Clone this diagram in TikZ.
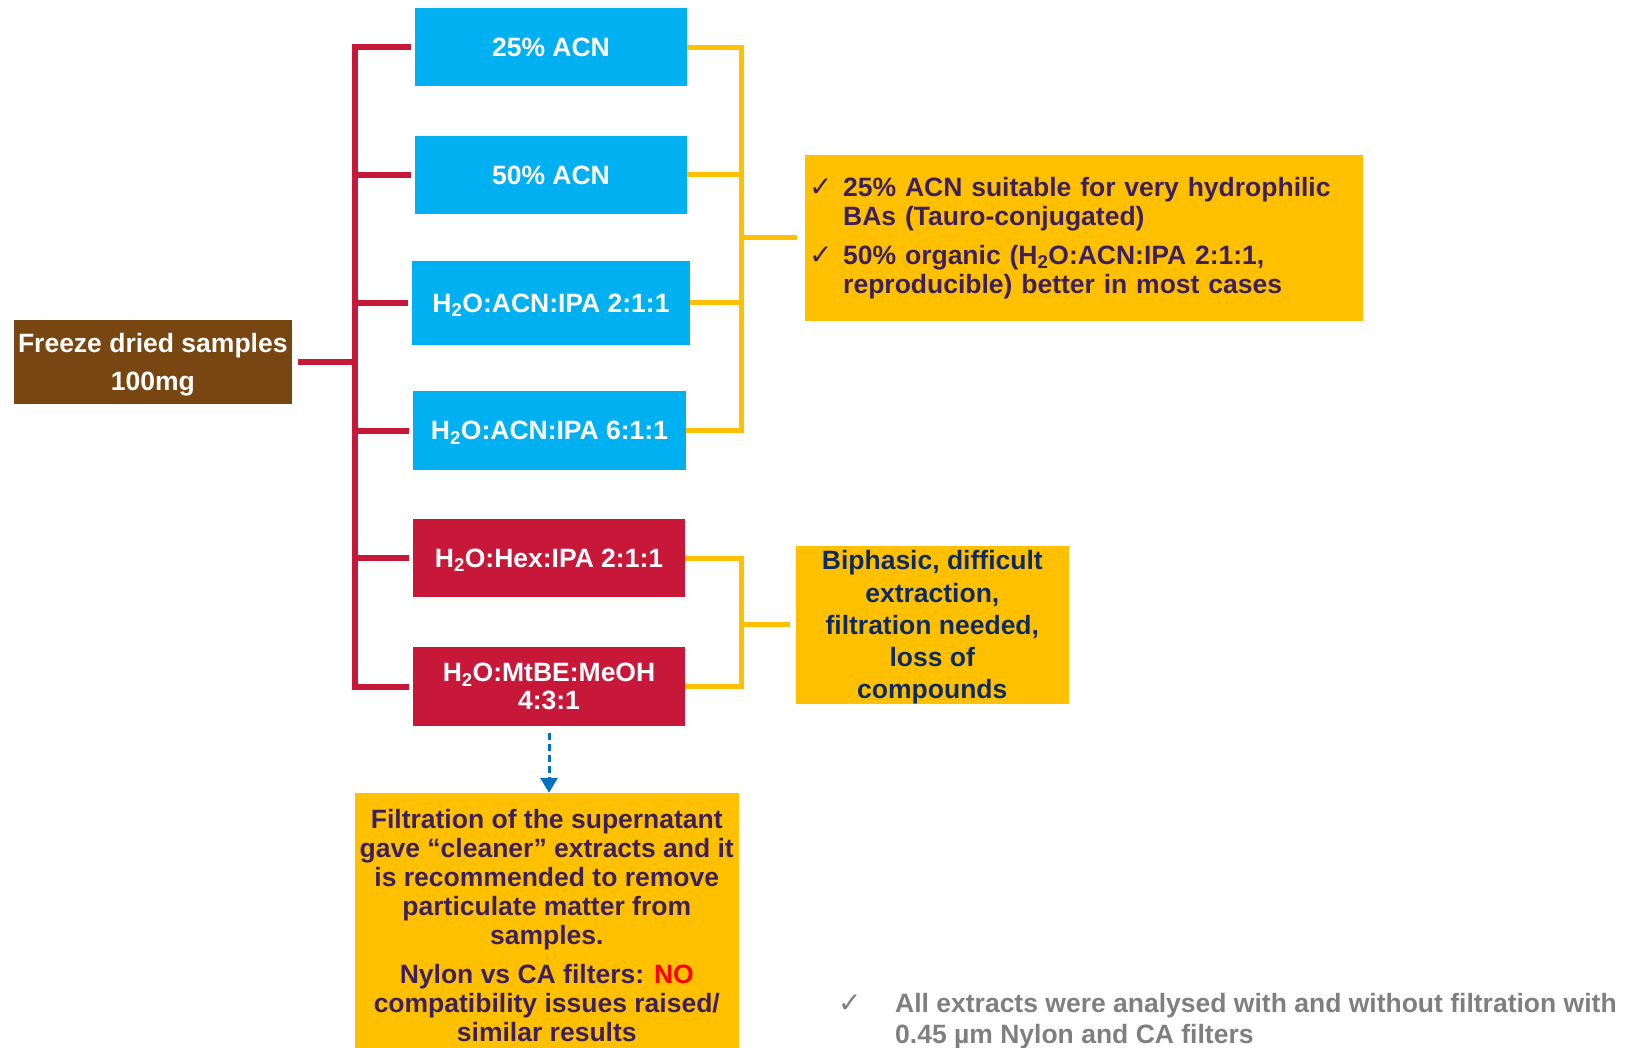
\documentclass[tikz,border=0pt]{standalone}
\usepackage{fontspec}
\setmainfont{Liberation Sans}
\newfontfamily\checkfont{DejaVu Sans}
\usetikzlibrary{arrows.meta}

\definecolor{solblue}{HTML}{00B0F0}
\definecolor{solred}{HTML}{C8183A}
\definecolor{sampbrown}{HTML}{784610}
\definecolor{noteyellow}{HTML}{FFC000}
\definecolor{notepurple}{HTML}{3D1F5C}
\definecolor{notenavy}{HTML}{0E2A5E}
\definecolor{arrowblue}{HTML}{0070C0}
\definecolor{remarkgray}{HTML}{7F7F7F}

\newcommand{\chk}{{\checkfont\mdseries\fontsize{28}{28}\selectfont ✓}}

\tikzset{
  boxtext/.style={font=\bfseries\fontsize{26.5}{29}\selectfont, align=center, inner sep=0pt},
  flat/.style={text depth=0pt},
  solvent/.style={boxtext, flat, fill=solblue, text=white},
  biphasic/.style={boxtext, flat, fill=solred, text=white},
  note/.style={boxtext, fill=noteyellow, text=notepurple},
  redline/.style={solred, line width=6pt},
  yelline/.style={noteyellow, line width=5pt},
}

\begin{document}
\begin{tikzpicture}[x=1pt, y=-1pt]
\useasboundingbox (0,0) rectangle (1630,1048);
% sample and extraction solvents
\node[boxtext, flat, fill=sampbrown, text=white, minimum width=278.5pt, minimum height=84pt, font=\bfseries\fontsize{26.5}{38.5}\selectfont] (src) at (152.8,362) {Freeze dried samples\\100mg};
\node[solvent, minimum width=272pt, minimum height=78pt] (b1) at (551,47.3) {25\% ACN};
\node[solvent, minimum width=272pt, minimum height=78pt] (b2) at (551,175) {50\% ACN};
\node[solvent, minimum width=278pt, minimum height=84pt] (b3) at (551,303) {H\textsubscript{2}O:ACN:IPA 2:1:1};
\node[solvent, minimum width=273pt, minimum height=79pt] (b4) at (549.5,430.5) {H\textsubscript{2}O:ACN:IPA 6:1:1};
\node[biphasic, minimum width=272pt, minimum height=78pt] (r1) at (549,558) {H\textsubscript{2}O:Hex:IPA 2:1:1};
\node[biphasic, minimum width=272pt, minimum height=79pt, font=\bfseries\fontsize{26.5}{28}\selectfont] (r2) at (549,686.5) {H\textsubscript{2}O:MtBE:MeOH\\4:3:1};
% notes
\node[note, minimum width=558pt, minimum height=166pt, text width=549pt, align=left] (note1) at (1083.7,238) {\makebox[34pt][l]{\chk}25\% ACN suitable for very hydrophilic\\\hspace*{34pt}BAs (Tauro-conjugated)\\[10.5pt]\makebox[34pt][l]{\chk}50\% organic (H\textsubscript{2}O:ACN:IPA 2:1:1,\\\hspace*{34pt}reproducible) better in most cases};
\node[note, flat, text=notenavy, minimum width=272.6pt, minimum height=158pt, font=\bfseries\fontsize{26.5}{32.2}\selectfont] (note2) at (932.3,624.7) {Biphasic, difficult\\extraction,\\filtration needed,\\loss of\\compounds};
\node[note, minimum width=384.5pt, minimum height=265pt, font=\bfseries\fontsize{26.5}{28.8}\selectfont] (note3) at (546.8,925.5) {Filtration of the supernatant\\gave “cleaner” extracts and it\\is recommended to remove\\particulate matter from\\samples.\\[10.7pt]Nylon vs CA filters: \textcolor{red}{NO}\\compatibility issues raised/\\similar results};
\node[boxtext, flat, text=remarkgray, align=left, anchor=west, font=\bfseries\fontsize{26.5}{31}\selectfont] (remark) at (838,1018.5) {\makebox[57pt][l]{\chk}All extracts were analysed with and without filtration with\\\hspace*{57pt}0.45 µm Nylon and CA filters};
% connectors
\coordinate (rt) at (355,0);
\coordinate (yt) at (741,0);
\draw[redline] ([xshift=-4pt]b1.west) -| (rt |- r2.west) -- ([xshift=-4pt]r2.west);
\foreach \n in {b2,b3,b4,r1} \draw[redline] (rt |- \n.west) -- ([xshift=-4pt]\n.west);
\draw[redline] ([xshift=6pt]src.east) -- (src.east -| rt);
\draw[yelline] (b1.east) -| (yt |- b4.east) -- (b4.east);
\foreach \n in {b2,b3} \draw[yelline] (\n.east) -- (yt |- \n.east);
\draw[yelline] (yt |- note1.west) -- ([xshift=-8pt]note1.west);
\draw[yelline] (r1.east) -| (yt |- r2.east) -- (r2.east);
\draw[yelline] (yt |- note2.west) -- ([xshift=-6pt]note2.west);
\draw[arrowblue, line width=3pt, dash pattern=on 7pt off 4pt, -{Triangle[width=17pt,length=15pt]}] ([yshift=-7pt]r2.south) -- (r2.south |- note3.north);
\end{tikzpicture}
\end{document}
